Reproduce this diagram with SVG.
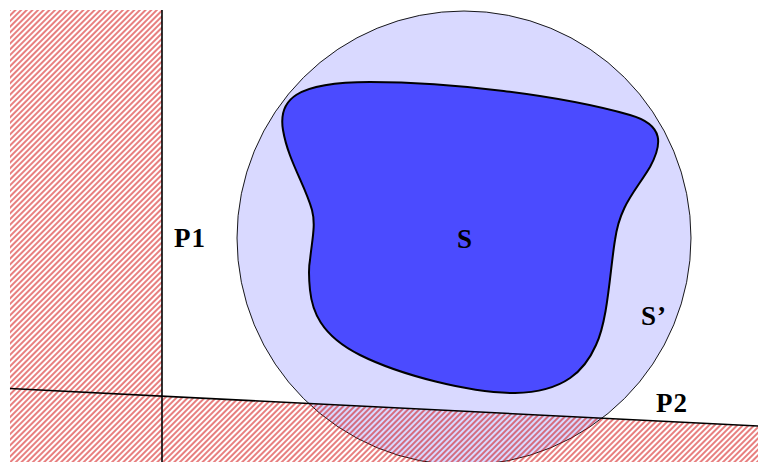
<svg xmlns="http://www.w3.org/2000/svg" width="758" height="462" viewBox="0 0 758 462">
<style>
.lbl{font-family:"Liberation Serif","DejaVu Serif",serif;font-weight:bold;font-size:27px;fill:#000;letter-spacing:1px}
.plane{stroke:#000;stroke-width:1.6;fill:none}
</style>
<defs>
<pattern id="hatch" patternUnits="userSpaceOnUse" width="4" height="10" patternTransform="rotate(45)">
<line x1="2" y1="-1" x2="2" y2="11" stroke="#d00000" stroke-width="1"/>
</pattern>
</defs>
<rect width="758" height="462" fill="#fff"/>
<g id="S-prime">
<circle cx="464" cy="238" r="227" fill="#d9d9ff" stroke="#000" stroke-width="0.9"/>
</g>
<g id="S">
<path d="M310,260 C312,240 316,225 312,210 C305,185 288,160 283,130 C278,100 295,82 370,82 C450,82 560,95 630,115 C665,125 662,145 650,167 C635,192 620,205 615,240 C610,270 608,320 596,345 C585,370 565,392 515,393 C470,393 400,375 360,355 C320,335 312,310 310,290 C309,280 308,270 310,260 Z" fill="#4b4bff" stroke="#000" stroke-width="2"/>
</g>
<g id="P1-region">
<rect x="10" y="10" width="152" height="452" fill="url(#hatch)"/>
</g>
<g id="P2-region">
<polygon points="162,396.1 758,426 758,462 162,462" fill="url(#hatch)"/>
</g>
<g id="connectors">
<line class="plane" x1="162" y1="10" x2="162" y2="462"/>
<line class="plane" x1="10" y1="388.5" x2="758" y2="426"/>
</g>
<g id="labels">
<text class="lbl" x="174" y="247">P1</text>
<text class="lbl" x="457" y="248">S</text>
<text class="lbl" x="641" y="325">S’</text>
<text class="lbl" x="656" y="412">P2</text>
</g>
</svg>
